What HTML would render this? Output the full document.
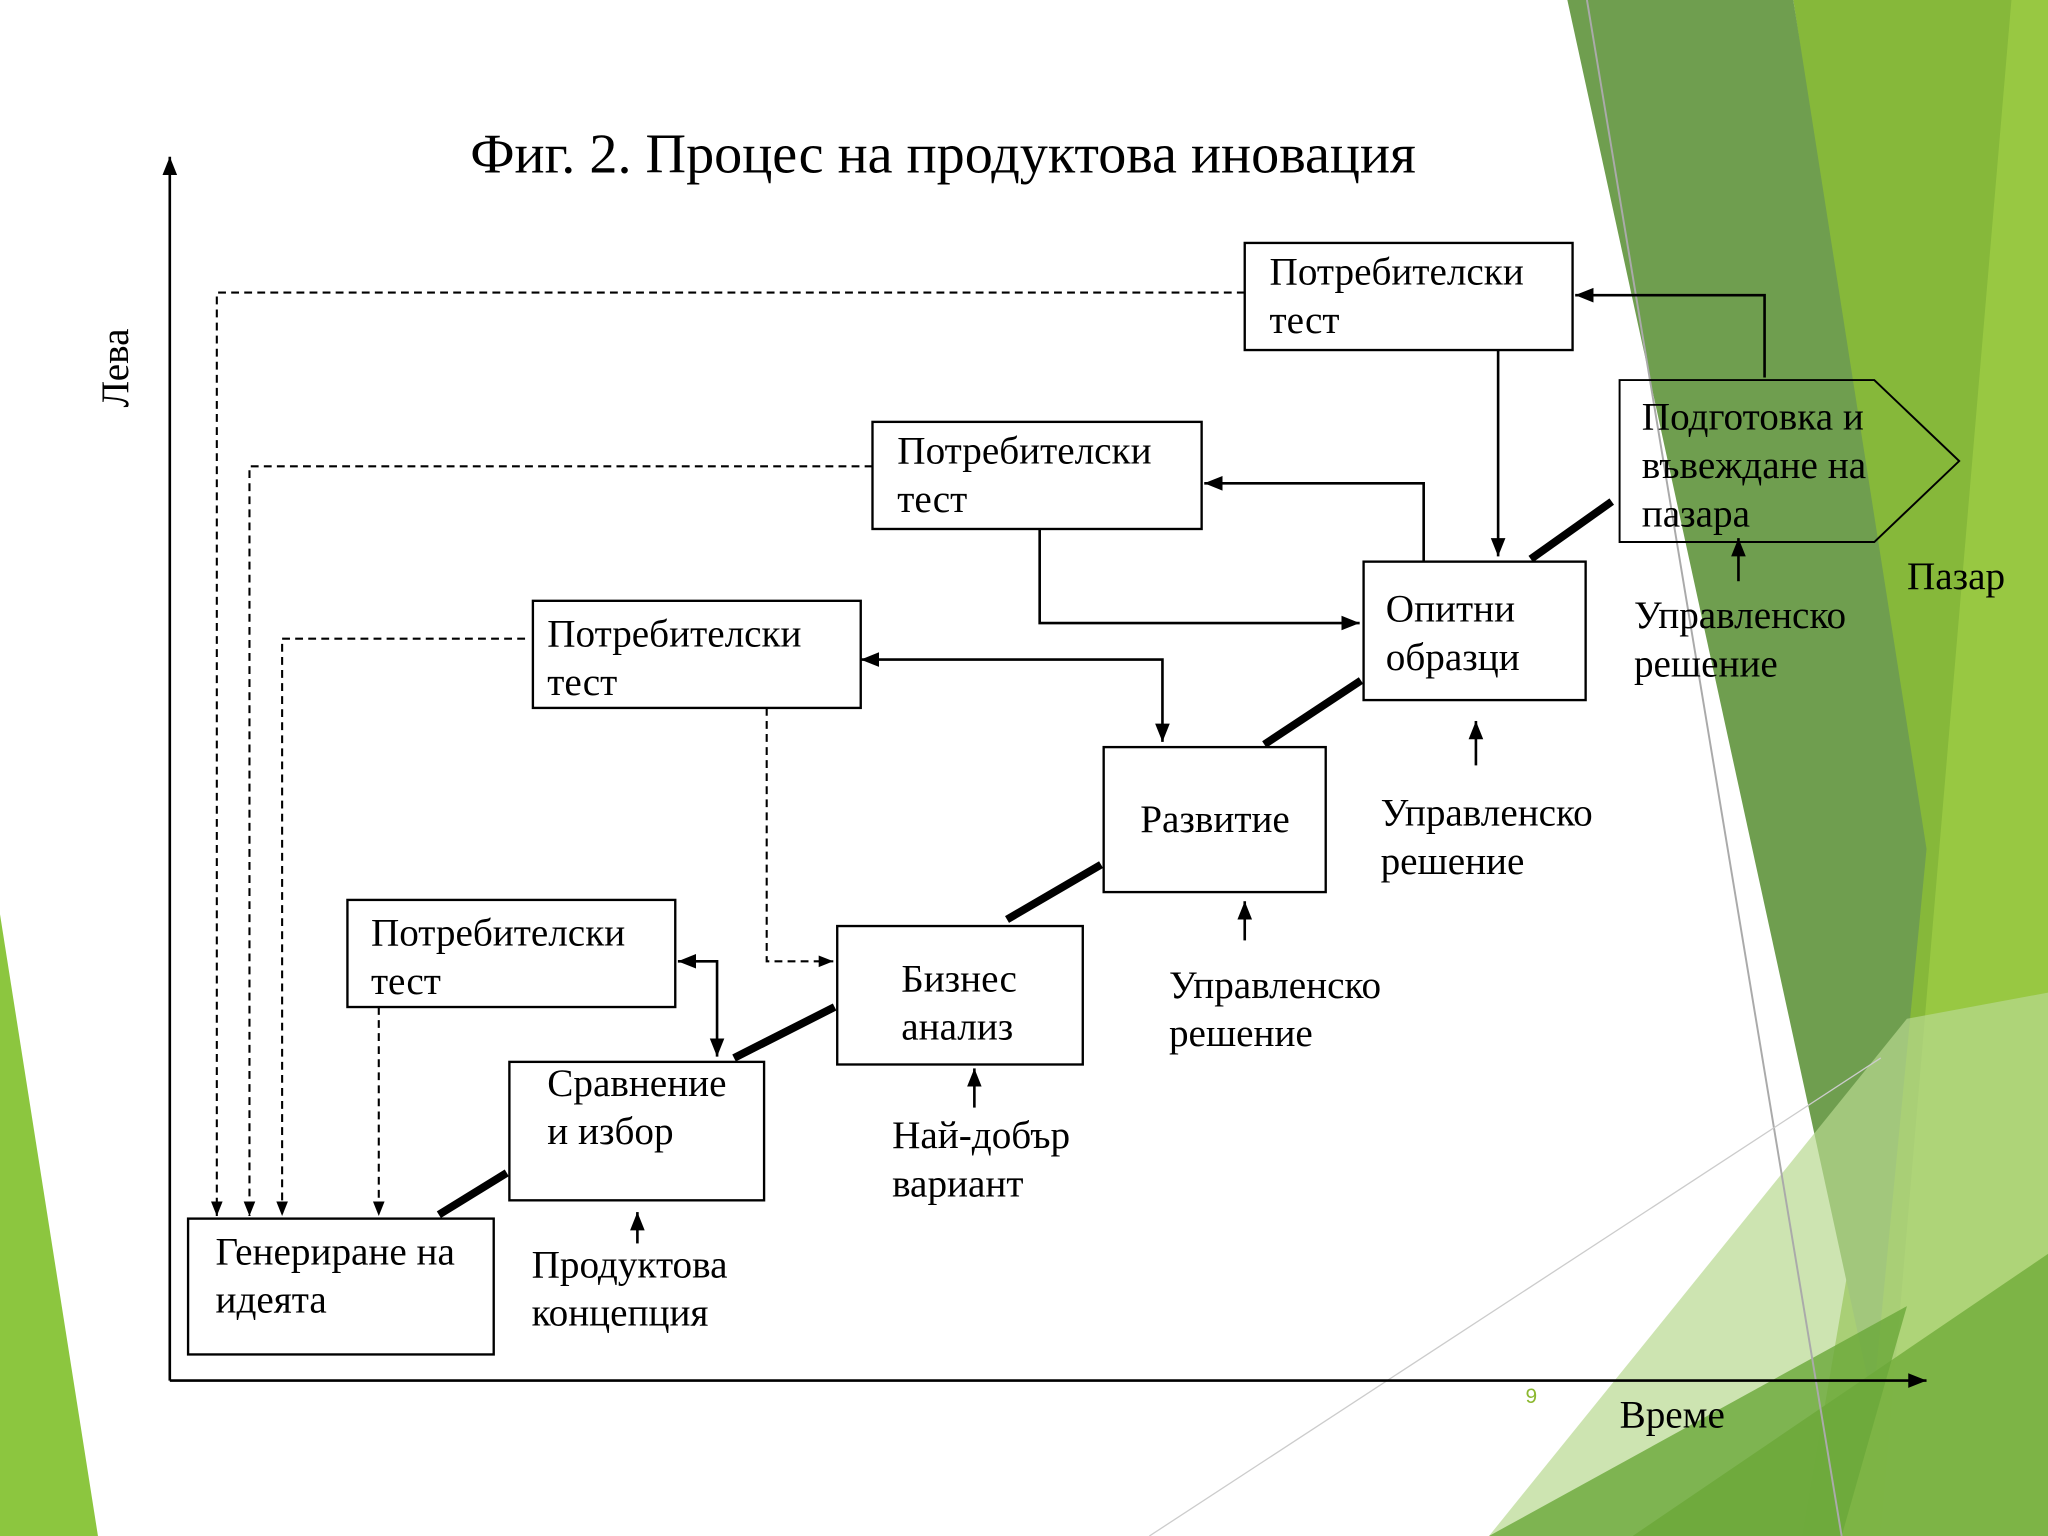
<!DOCTYPE html>
<html><head><meta charset="utf-8"><style>html,body{margin:0;padding:0;background:#fff}svg{display:block}</style></head>
<body>
<svg width="2048" height="1536" viewBox="0 0 1568 1176" xmlns="http://www.w3.org/2000/svg" font-family="Liberation Serif, DejaVu Serif, serif">
<defs>
<marker id="a" viewBox="0 0 10 10" refX="10" refY="5" markerWidth="7" markerHeight="7" orient="auto-start-reverse"><path d="M0,1 L10,5 L0,9 z" fill="#000"/></marker>
</defs>
<rect width="1568" height="1176" fill="#fff"/>
<polygon points="0,700 75,1176 0,1176" fill="#8cc63f"/>
<polygon points="1373,0 1568,0 1568,1176 1380,1176 1470,650" fill="#86b83a"/>
<polygon points="1540,0 1568,0 1568,1176 1440,1176" fill="#9ccc45" opacity="0.8"/>
<polygon points="1200,0 1373,0 1475,650 1434,1074" fill="#6f9e4f"/>
<polygon points="1140,1176 1460,780 1568,760 1568,1176" fill="#b8d890" opacity="0.7"/>
<polygon points="1250,1176 1568,960 1568,1176" fill="#78b040" opacity="0.9"/>
<polygon points="1140,1176 1460,1000 1410,1176" fill="#6aa83a" opacity="0.8"/>
<line x1="1215" y1="0" x2="1410" y2="1176" stroke="#aaa" stroke-width="1.5"/>
<line x1="880" y1="1176" x2="1440" y2="810" stroke="#ccc" stroke-width="1"/>
<text x="722" y="132" font-size="43" text-anchor="middle">Фиг. 2. Процес на продуктова иновация</text>
<g stroke="#000" stroke-width="2" fill="none">
<line x1="130" y1="1057" x2="130" y2="120" marker-end="url(#a)"/>
<line x1="130" y1="1057" x2="1475" y2="1057" marker-end="url(#a)"/>
<g fill="#fff" stroke-width="1.8">
<rect x="953" y="186" width="251" height="82"/>
<rect x="668" y="323" width="252" height="82"/>
<rect x="408" y="460" width="251" height="82"/>
<rect x="266" y="689" width="251" height="82"/>
<rect x="144" y="933" width="234" height="104"/>
<rect x="390" y="813" width="195" height="106"/>
<rect x="641" y="709" width="188" height="106"/>
<rect x="845" y="572" width="170" height="111"/>
<rect x="1044" y="430" width="170" height="106"/>
</g>
<polygon points="1240,291 1435,291 1500,353 1435,415 1240,415" stroke-width="1.5"/>
<g stroke-width="6">
<line x1="336" y1="930" x2="388" y2="898"/>
<line x1="562" y1="810" x2="639" y2="771"/>
<line x1="771" y1="704" x2="843" y2="662"/>
<line x1="968" y1="570" x2="1042" y2="521"/>
<line x1="1172" y1="428" x2="1234" y2="384"/>
</g>
<g stroke-dasharray="6,4" stroke-width="1.6">
<polyline points="953,224 166,224 166,931" marker-end="url(#a)"/>
<polyline points="668,357 191,357 191,931" marker-end="url(#a)"/>
<polyline points="402,489 216,489 216,931" marker-end="url(#a)"/>
<polyline points="290,771 290,931" marker-end="url(#a)"/>
<polyline points="587,542 587,736 638,736" marker-end="url(#a)"/>
</g>
<polyline points="1147,268 1147,426" marker-end="url(#a)"/>
<polyline points="1351,289 1351,226 1206,226" marker-end="url(#a)"/>
<polyline points="1090,430 1090,370 922,370" marker-end="url(#a)"/>
<polyline points="796,405 796,477 1041,477" marker-end="url(#a)"/>
<polyline points="659,505 890,505 890,568" marker-start="url(#a)" marker-end="url(#a)"/>
<polyline points="519,736 549,736 549,809" marker-start="url(#a)" marker-end="url(#a)"/>
<line x1="488" y1="952" x2="488" y2="928" marker-end="url(#a)"/>
<line x1="746" y1="848" x2="746" y2="818" marker-end="url(#a)"/>
<line x1="953" y1="720" x2="953" y2="690" marker-end="url(#a)"/>
<line x1="1130" y1="586" x2="1130" y2="552" marker-end="url(#a)"/>
<line x1="1331" y1="445" x2="1331" y2="412" marker-end="url(#a)"/>
</g>
<g font-size="30" fill="#000">
<text x="972" y="218">Потребителски</text><text x="972" y="255">тест</text>
<text x="687" y="355">Потребителски</text><text x="687" y="392">тест</text>
<text x="419" y="495">Потребителски</text><text x="419" y="532">тест</text>
<text x="284" y="724">Потребителски</text><text x="284" y="761">тест</text>
<text x="165" y="968">Генериране на</text><text x="165" y="1005">идеята</text>
<text x="419" y="839">Сравнение</text><text x="419" y="876">и избор</text>
<text x="690" y="759">Бизнес</text><text x="690" y="796">анализ</text>
<text x="873" y="637">Развитие</text>
<text x="1061" y="476">Опитни</text><text x="1061" y="513">образци</text>
<text x="1257" y="329">Подготовка и</text><text x="1257" y="366">въвеждане на</text><text x="1257" y="403">пазара</text>
<text x="407" y="978">Продуктова</text><text x="407" y="1015">концепция</text>
<text x="683" y="879">Най-добър</text><text x="683" y="916">вариант</text>
<text x="895" y="764">Управленско</text><text x="895" y="801">решение</text>
<text x="1057" y="632">Управленско</text><text x="1057" y="669">решение</text>
<text x="1251" y="481">Управленско</text><text x="1251" y="518">решение</text>
<text x="1460" y="451">Пазар</text>
<text x="1240" y="1093">Време</text>
<text transform="translate(98,312) rotate(-90)">Лева</text>
</g>
<text x="1168" y="1074" font-size="16" fill="#8cb830" font-family="Liberation Sans, sans-serif">9</text>
</svg>
</body></html>
